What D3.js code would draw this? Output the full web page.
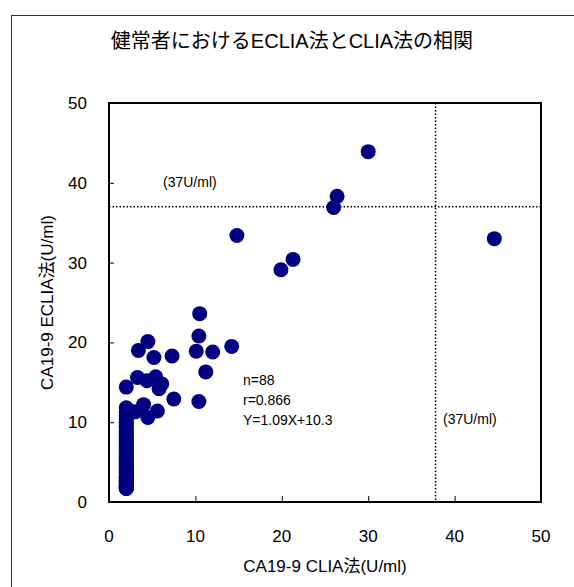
<!DOCTYPE html>
<html>
<head>
<meta charset="utf-8">
<script src="https://cdn.jsdelivr.net/npm/d3@7"></script>
<style>
  body { margin: 0; background: #fff; }
  text { font-family: 'Liberation Sans', Arial, 'Noto Sans CJK JP', sans-serif; fill: #000; }
</style>
</head>
<body>
<script>
const title = '健常者におけるECLIA法とCLIA法の相関'
const xLabel = 'CA19-9 CLIA法(U/ml)'
const yLabel = 'CA19-9 ECLIA法(U/ml)'

// CLIA (x) / ECLIA (y)
const cliaValues = [
  30.0, 26.4, 26.0, 44.6, 21.3, 19.9, 14.8, 10.5, 10.4, 4.5,
  3.4, 5.2, 7.3, 10.1, 12.0, 14.2, 11.2, 3.3, 4.4, 5.4,
  6.1, 5.8, 7.5, 10.4, 4.0, 5.6, 4.5, 3.0, 2.0, 2.0,
  2.0, 2.0, 2.0, 2.0, 2.0, 2.0, 2.0, 2.0, 2.0, 2.0,
  2.0, 2.0, 2.0, 2.0, 2.0, 2.0, 2.0, 2.0, 2.0, 2.0,
  2.0, 2.0, 2.0, 2.0, 2.0, 2.0, 2.0, 2.0, 2.0, 2.0,
  2.0, 2.0, 2.0, 2.0, 2.0, 2.0, 2.0, 2.0, 2.0, 2.0,
  2.0, 2.0, 2.0, 2.0, 2.0, 2.0, 2.0, 2.0, 2.0, 2.0,
  2.0, 2.0, 2.0, 2.0, 2.0, 2.0, 2.0, 2.0
]
const ecliaValues = [
  43.9, 38.3, 36.9, 33.0, 30.4, 29.1, 33.4, 23.6, 20.8, 20.1,
  19.0, 18.1, 18.3, 18.9, 18.8, 19.5, 16.3, 15.6, 15.2, 15.7,
  14.8, 14.2, 12.9, 12.6, 12.2, 11.4, 10.6, 11.3, 14.4, 11.8,
  11.2, 10.9, 10.6, 10.3, 10.0, 9.8, 9.5, 9.3, 9.0, 8.8,
  8.6, 8.3, 8.1, 7.9, 7.7, 7.4, 7.2, 7.0, 6.8, 6.6,
  6.4, 6.2, 6.0, 5.8, 5.6, 5.5, 5.3, 5.1, 4.9, 4.8,
  4.6, 4.4, 4.3, 4.1, 4.0, 3.8, 3.7, 3.5, 3.4, 3.2,
  3.1, 3.0, 2.9, 2.8, 2.7, 2.6, 2.5, 2.4, 2.3, 2.2,
  2.1, 2.0, 1.9, 1.9, 1.8, 1.8, 1.7, 1.7
]

const xTicks = [0, 10, 20, 30, 40, 50]
const yTicks = [0, 10, 20, 30, 40, 50]
const cutoffX = 37.8
const cutoffY = 37
const cutoffLabel = '(37U/ml)'
const statsLines = ['n=88', 'r=0.866', 'Y=1.09X+10.3']

const W = 574
const H = 587
const margin = {top: 103, right: 33, bottom: 85, left: 109}
const width = W - margin.left - margin.right
const height = H - margin.top - margin.bottom

const data = cliaValues.map((x, i) => ({x, y: ecliaValues[i]}))

const svg = d3.select('body').append('svg')
  .attr('width', W)
  .attr('height', H)

// outer frame (runs off the right / bottom edge)
svg.append('rect')
  .attr('x', 11.5)
  .attr('y', 15.5)
  .attr('width', W + 10)
  .attr('height', H + 10)
  .attr('fill', 'none')
  .attr('stroke', '#333')
  .attr('stroke-width', 1)

svg.append('text')
  .attr('x', 292)
  .attr('y', 48)
  .attr('text-anchor', 'middle')
  .style('font-size', '20px')
  .text(title)

const g = svg.append('g')
  .attr('transform', `translate(${[margin.left, margin.top]})`)

const xScale = d3.scaleLinear().domain([0, 50]).range([0, width])
const yScale = d3.scaleLinear().domain([0, 50]).range([height, 0])

// ticks point inward, labels placed by hand below
const xAxis = d3.axisTop(xScale).tickValues(xTicks).tickSize(6).tickFormat('')
const yAxis = d3.axisRight(yScale).tickValues(yTicks).tickSize(5).tickFormat('')

g.append('g')
  .attr('class', 'axis axis-x')
  .attr('transform', `translate(0,${height})`)
  .call(xAxis)
  .call(s => s.select('.domain').remove())

g.append('g')
  .attr('class', 'axis axis-y')
  .call(yAxis)
  .call(s => s.select('.domain').remove())

g.selectAll('.axis line').attr('stroke', '#000').attr('stroke-width', 1)

g.selectAll('.x-label')
  .data(xTicks)
  .enter()
  .append('text')
  .attr('x', d => xScale(d))
  .attr('y', height + 40)
  .attr('text-anchor', 'middle')
  .style('font-size', '17px')
  .text(d => d)

g.selectAll('.y-label')
  .data(yTicks)
  .enter()
  .append('text')
  .attr('x', -22)
  .attr('y', d => yScale(d))
  .attr('dy', '0.35em')
  .attr('text-anchor', 'end')
  .style('font-size', '17px')
  .text(d => d)

// cutoff lines
g.append('line')
  .attr('x1', 0)
  .attr('x2', width)
  .attr('y1', yScale(cutoffY))
  .attr('y2', yScale(cutoffY))
  .attr('stroke', '#000')
  .attr('stroke-width', 1.5)
  .attr('stroke-dasharray', '1.5,2')

g.append('line')
  .attr('x1', xScale(cutoffX))
  .attr('x2', xScale(cutoffX))
  .attr('y1', 0)
  .attr('y2', height)
  .attr('stroke', '#000')
  .attr('stroke-width', 1.5)
  .attr('stroke-dasharray', '1.5,2')

g.selectAll('.dot')
  .data(data)
  .enter()
  .append('circle')
  .attr('class', 'dot')
  .attr('cx', d => xScale(d.x))
  .attr('cy', d => yScale(d.y))
  .attr('r', 7.5)
  .attr('fill', '#000080')

// plot border
g.append('rect')
  .attr('width', width)
  .attr('height', height)
  .attr('fill', 'none')
  .attr('stroke', '#000')
  .attr('stroke-width', 2)

g.append('text')
  .attr('x', 54)
  .attr('y', 79)
  .attr('dy', '0.35em')
  .style('font-size', '14px')
  .text(cutoffLabel)

g.append('text')
  .attr('x', 334)
  .attr('y', 316)
  .attr('dy', '0.35em')
  .style('font-size', '14px')
  .text(cutoffLabel)

g.selectAll('.stat')
  .data(statsLines)
  .enter()
  .append('text')
  .attr('x', 134)
  .attr('y', (d, i) => 277 + i * 20)
  .attr('dy', '0.35em')
  .style('font-size', '14px')
  .text(d => d)

svg.append('text')
  .attr('x', margin.left + width / 2)
  .attr('y', 572)
  .attr('text-anchor', 'middle')
  .style('font-size', '17px')
  .text(xLabel)

svg.append('text')
  .attr('transform', `translate(53,${margin.top + height / 2}) rotate(-90)`)
  .attr('text-anchor', 'middle')
  .style('font-size', '17px')
  .text(yLabel)
</script>
</body>
</html>
